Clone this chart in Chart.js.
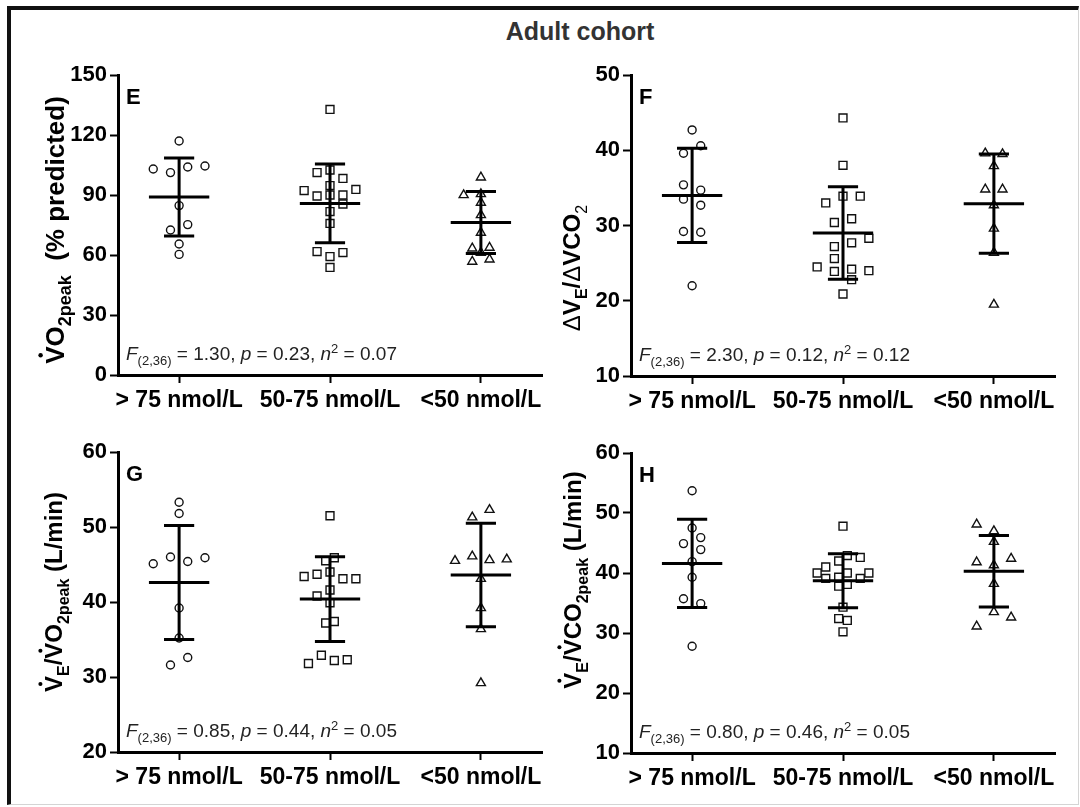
<!DOCTYPE html>
<html>
<head>
<meta charset="utf-8">
<title>Adult cohort</title>
<script src="https://cdn.jsdelivr.net/npm/chart.js@4.4.1/dist/chart.umd.min.js"></script>
<style>
  body { margin: 0; background: #fff; width: 1080px; height: 807px; position: relative; overflow: hidden;
         font-family: "Liberation Sans", Arial, sans-serif; }
  .frame { position: absolute; left: 7px; top: 6px; width: 1067px; height: 794px;
           border-left: 4px solid #111; border-top: 4px solid #111;
           border-right: 1px solid #d4d4d4; border-bottom: 1px solid #d4d4d4; }
  .title { position: absolute; left: 430px; width: 300px; top: 19px; text-align: center;
           font-weight: bold; font-size: 25px; line-height: 25px; color: #333; }
  canvas { position: absolute; }
</style>
</head>
<body>
<div class="frame"></div>
<div class="title">Adult cohort</div>
<canvas id="chartE" width="560" height="425" style="left:0;top:0"></canvas>
<canvas id="chartF" width="540" height="425" style="left:540px;top:0"></canvas>
<canvas id="chartG" width="560" height="382" style="left:0;top:425px"></canvas>
<canvas id="chartH" width="540" height="382" style="left:540px;top:425px"></canvas>
<script>
// Groups (25(OH)D status)
const groups = ["> 75 nmol/L", "50-75 nmol/L", "<50 nmol/L"];

// E: VO2peak (% predicted)
const vo2PeakPct = [
    [117, 103, 101.2, 104, 104.5, 84.7, 75.2, 72.5, 65.5, 60.3],
    [132.8, 101.2, 102.5, 98.3, 92.2, 92.8, 94.7, 89.5, 90, 90, 85.5, 81.7, 75.8, 61.7, 61.2, 59.2, 53.8],
    [98.8, 90, 90.5, 86.2, 80, 71.2, 63.3, 63.7, 61.2, 56.7, 57.8]
];
const vo2PeakPctJitter = [
    [0, -6, -2, 2, 6, 0, 2, -2, 0, 0],
    [0, -3, 0, 3, -6, 6, 0, -3, 0, 3, 3, 0, 0, -3, 3, 0, 0],
    [0, -4, 0, 0, 0, 0, -2, 2, 0, -2, 2]
];
const vo2PeakPctMean = [89.0, 85.8, 76.2];
const vo2PeakPctSd = [19.5, 19.7, 15.5];

// F: VE/VCO2 slope
const veVco2Slope = [
    [42.7, 40.6, 39.6, 35.4, 34.7, 33.5, 32.7, 29.2, 29.1, 22.0],
    [44.3, 38.0, 33.9, 33.9, 33.0, 30.4, 30.9, 28.3, 27.2, 27.7, 25.6, 24.5, 23.9, 24.2, 24.0, 22.8, 20.9],
    [39.6, 39.5, 37.9, 34.8, 34.8, 32.7, 29.6, 26.4, 19.5]
];
const veVco2SlopeJitter = [
    [0, 2, -2, -2, 2, -2, 2, -2, 2, 0],
    [0, 0, 0, 4, -4, -2, 2, 6, -2, 2, -2, -6, -2, 2, 6, 2, 0],
    [-2, 2, 0, -2, 2, 0, 0, 0, 0]
];
const veVco2SlopeMean = [34.0, 29.0, 32.9];
const veVco2SlopeSd = [6.25, 6.15, 6.6];

// G: VE/VO2peak (L/min)
const veVo2Peak = [
    [53.3, 51.8, 45.1, 46.0, 45.4, 45.9, 39.2, 35.2, 31.6, 32.6],
    [51.5, 45.9, 45.5, 43.4, 43.7, 44.0, 43.1, 43.1, 41.6, 40.8, 39.9, 37.2, 37.4, 31.8, 32.9, 32.2, 32.3],
    [51.3, 52.3, 45.5, 46.1, 45.6, 45.7, 43.1, 39.2, 36.4, 29.2]
];
const veVo2PeakJitter = [
    [0, 0, -6, -2, 2, 6, 0, 0, -2, 2],
    [0, 1, -1, -6, -3, 0, 3, 6, 0, -3, 0, -1, 1, -5, -2, 1, 4],
    [-2, 2, -6, -2, 2, 6, 0, 0, 0, 0]
];
const veVo2PeakMean = [42.6, 40.4, 43.6];
const veVo2PeakSd = [7.6, 5.65, 6.9];

// H: VE/VCO2peak (L/min)
const veVco2Peak = [
    [53.7, 47.5, 45.9, 44.9, 43.9, 41.9, 39.3, 35.7, 34.9, 27.8],
    [47.8, 42.9, 42.6, 42.0, 41.0, 40.0, 40.0, 40.0, 39.3, 39.1, 39.1, 37.8, 38.1, 34.3, 32.4, 32.1, 30.2],
    [48.1, 47.0, 45.2, 41.8, 42.4, 41.3, 38.2, 33.5, 31.1, 32.6]
];
const veVco2PeakJitter = [
    [0, 0, 2, -2, 2, 0, 0, -2, 2, 0],
    [0, 1, 4, -1, -4, -6, 6, 1, -1, -4, 4, -1, 1, 0, -1, 1, 0],
    [-4, 0, 0, -4, 4, 0, 0, 0, -4, 4]
];
const veVco2PeakMean = [41.6, 38.7, 40.3];
const veVco2PeakSd = [7.35, 4.5, 5.95];

// ANOVA results, panels E-H
const anovaDf = "(2,36)";
const fStat = [1.30, 2.30, 0.85, 0.80];
const pValue = [0.23, 0.12, 0.44, 0.46];
const etaSq = [0.07, 0.12, 0.05, 0.05];

const FONT = '"Liberation Sans", Arial, sans-serif';
const JIT = 1 / 35;       // jitter step in category units
const MEAN_W = 0.2;
const CAP_W = 0.1;
const X_PAD = 0.405;
const SHAPES = ["circle", "rect", "triangle"];
const RADII = [4, 5.6, 5.2];

Chart.defaults.font.family = FONT;
Chart.defaults.color = "#000";

// Draws text pieces with bold/italic/sub/sup, optionally rotated
function drawRich(ctx, segs, x, y, angle, size, align, color) {
    const fontOf = s => (s.i ? "italic " : "") + (s.b ? "bold " : "") +
        Math.round(s.sub || s.sup ? size * 0.68 : size) + "px " + FONT;
    let total = 0;
    const widths = segs.map(s => {
        ctx.font = fontOf(s);
        const w = ctx.measureText(s.t).width;
        total += w;
        return w;
    });
    ctx.save();
    ctx.translate(x, y);
    ctx.rotate(angle);
    ctx.fillStyle = color;
    ctx.textAlign = "left";
    ctx.textBaseline = "alphabetic";
    let cx = align === "center" ? -total / 2 : 0;
    segs.forEach((s, k) => {
        ctx.font = fontOf(s);
        const dy = (s.sub ? size * 0.28 : s.sup ? -size * 0.38 : 0) + (s.dy || 0);
        ctx.fillText(s.t, cx, dy);
        if (s.dot) {
            const w0 = ctx.measureText(s.t[0]).width;
            ctx.beginPath();
            ctx.arc(cx + w0 / 2, -size * 0.9, size * 0.085, 0, Math.PI * 2);
            ctx.fill();
        }
        cx += widths[k];
    });
    ctx.restore();
}

function statSegs(k) {
    return [
        { t: "F", i: true }, { t: anovaDf, sub: true },
        { t: " = " + fStat[k].toFixed(2) + ", " }, { t: "p", i: true },
        { t: " = " + pValue[k].toFixed(2) + ", " }, { t: "n", i: true },
        { t: "2", sup: true }, { t: " = " + etaSq[k].toFixed(2) }
    ];
}

function panelDecor(p) {
    return {
        id: "panelDecor",
        afterDraw(chart) {
            const ctx = chart.ctx;
            const a = chart.chartArea;
            ctx.save();
            ctx.fillStyle = "#000";
            ctx.font = "bold 22px " + FONT;
            ctx.textAlign = "left";
            ctx.textBaseline = "alphabetic";
            ctx.fillText(p.letter, a.left + 8, a.top + 29);
            drawRich(ctx, statSegs(p.stat), a.left + 8, a.bottom - 15, 0, 19, "left", "#222");
            drawRich(ctx, p.title, p.titleX, p.titleY, -Math.PI / 2, p.titleSize || 24, "center", "#000");
            ctx.restore();
        }
    };
}

function buildChart(id, p) {
    const datasets = [];
    p.values.forEach((vals, g) => {
        datasets.push({
            type: "scatter",
            data: vals.map((v, k) => ({ x: g + p.jitter[g][k] * JIT, y: v })),
            pointStyle: SHAPES[g],
            pointRadius: RADII[g],
            borderColor: "#111",
            borderWidth: 1.4,
            backgroundColor: "rgba(0,0,0,0)",
            order: 2
        });
        const m = p.mean[g], s = p.sd[g];
        datasets.push({
            type: "scatter",
            showLine: true,
            spanGaps: false,
            data: [
                { x: g - MEAN_W, y: m }, { x: g + MEAN_W, y: m }, { x: g, y: null },
                { x: g, y: m - s }, { x: g, y: m + s }, { x: g, y: null },
                { x: g - CAP_W, y: m - s }, { x: g + CAP_W, y: m - s }, { x: g, y: null },
                { x: g - CAP_W, y: m + s }, { x: g + CAP_W, y: m + s }
            ],
            borderColor: "#000",
            borderWidth: 3,
            pointRadius: 0,
            fill: false,
            order: 1
        });
    });

    const axisBorder = { display: true, color: "#000", width: 3 };
    const axisGrid = { drawOnChartArea: false, drawTicks: true, tickLength: 8, tickColor: "#000", tickWidth: 2 };

    return new Chart(document.getElementById(id), {
        type: "scatter",
        data: { datasets },
        options: {
            responsive: false,
            animation: false,
            layout: { padding: { top: p.padTop, right: p.padRight, left: 0, bottom: 0 } },
            plugins: { legend: { display: false }, tooltip: { enabled: false } },
            scales: {
                x: {
                    type: "linear",
                    min: -X_PAD,
                    max: groups.length - 1 + X_PAD,
                    afterBuildTicks: s => { s.ticks = groups.map((_, i) => ({ value: i })); },
                    afterFit: s => { s.height = p.xAxisH; },
                    border: axisBorder,
                    grid: axisGrid,
                    ticks: {
                        autoSkip: false, maxRotation: 0, minRotation: 0, padding: 4, color: "#000",
                        font: { size: 23, weight: "bold" },
                        callback: v => groups[v]
                    }
                },
                y: {
                    min: p.yMin,
                    max: p.yMax,
                    afterFit: s => { s.width = p.yAxisW; },
                    border: axisBorder,
                    grid: axisGrid,
                    ticks: { stepSize: p.yStep, padding: 3, color: "#000", font: { size: 22, weight: "bold" } }
                }
            }
        },
        plugins: [panelDecor(p)]
    });
}

buildChart("chartE", {
    values: vo2PeakPct, jitter: vo2PeakPctJitter, mean: vo2PeakPctMean, sd: vo2PeakPctSd,
    yMin: 0, yMax: 150, yStep: 30, letter: "E", stat: 0,
    yAxisW: 118, padRight: 18, padTop: 75, xAxisH: 50, titleX: 64, titleY: 230, titleSize: 26,
    title: [{ t: "V", b: true, dot: true }, { t: "O", b: true }, { t: "2peak", b: true, sub: true },
            { t: "  (% predicted)", b: true }]
});

buildChart("chartF", {
    values: veVco2Slope, jitter: veVco2SlopeJitter, mean: veVco2SlopeMean, sd: veVco2SlopeSd,
    yMin: 10, yMax: 50, yStep: 10, letter: "F", stat: 1,
    yAxisW: 91, padRight: 25, padTop: 75, xAxisH: 49, titleX: 40, titleY: 268,
    title: [{ t: "\u0394" }, { t: "V", b: true }, { t: "E", b: true, sub: true }, { t: "/", b: true },
            { t: "\u0394" }, { t: "VCO", b: true }, { t: "2", sub: true }]
});

buildChart("chartG", {
    values: veVo2Peak, jitter: veVo2PeakJitter, mean: veVo2PeakMean, sd: veVo2PeakSd,
    yMin: 20, yMax: 60, yStep: 10, letter: "G", stat: 2,
    yAxisW: 118, padRight: 18, padTop: 27, xAxisH: 55, titleX: 62, titleY: 167,
    title: [{ t: "V", b: true, dot: true }, { t: "E", b: true, sub: true }, { t: "/", b: true },
            { t: "V", b: true, dot: true }, { t: "O", b: true }, { t: "2peak", b: true, sub: true },
            { t: " (L/min)", b: true }]
});

buildChart("chartH", {
    values: veVco2Peak, jitter: veVco2PeakJitter, mean: veVco2PeakMean, sd: veVco2PeakSd,
    yMin: 10, yMax: 60, yStep: 10, letter: "H", stat: 3,
    yAxisW: 91, padRight: 25, padTop: 28, xAxisH: 54, titleX: 41, titleY: 155,
    title: [{ t: "V", b: true, dot: true }, { t: "E", b: true, sub: true }, { t: "/", b: true },
            { t: "V", b: true, dot: true }, { t: "CO", b: true }, { t: "2peak", b: true, sub: true },
            { t: " (L/min)", b: true }]
});
</script>
</body>
</html>
